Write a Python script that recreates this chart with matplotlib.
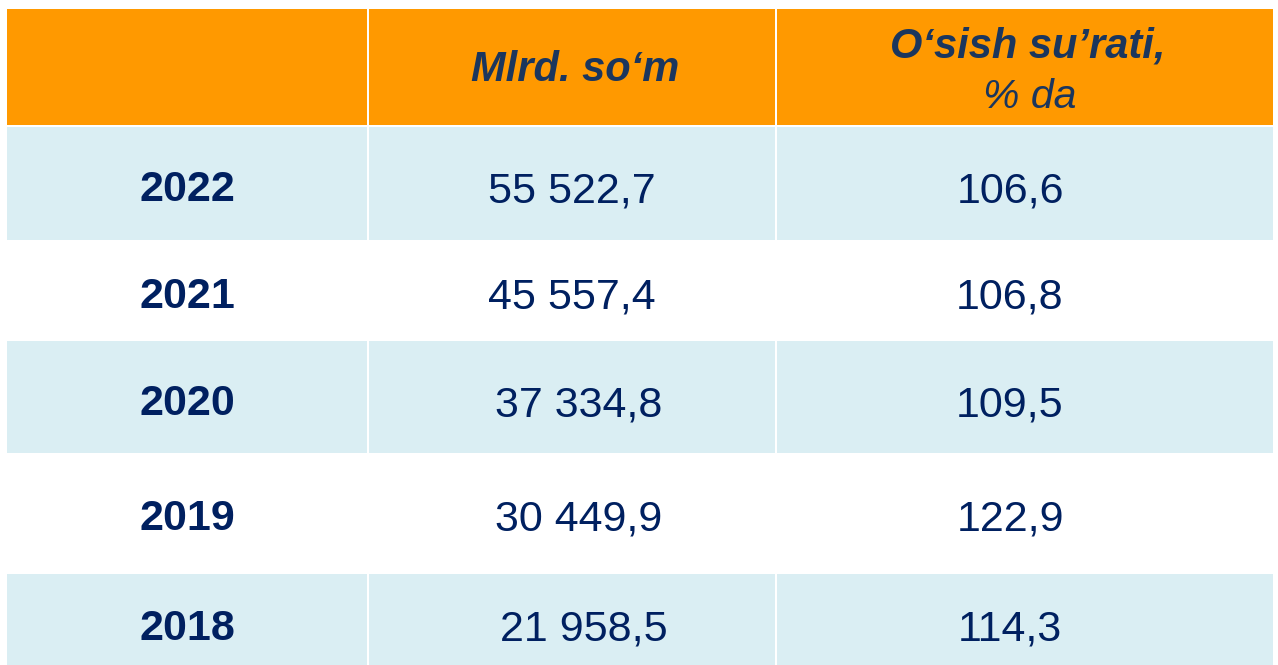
import matplotlib.pyplot as plt
from matplotlib.patches import Rectangle

# table content
years = ["2022", "2021", "2020", "2019", "2018"]
mlrd_som = ["55 522,7", "45 557,4", "37 334,8", "30 449,9", "21 958,5"]
growth = ["106,6", "106,8", "109,5", "122,9", "114,3"]
header_col2 = "Mlrd. so\u2018m"
header_col3_top = "O\u2018sish su\u2019rati,"
header_col3_bottom = "% da"

# layout in pixels (figure is 1278 x 665)
W, H = 1278, 665
col_edges = [6, 368, 776, 1274]
row_edges = [8, 126, 241, 340, 454, 573, 668]
baselines = [201, 308, 415, 530, 640]
col2_nudge = [0, 0, 7, 7, 12]

ORANGE = "#FF9900"
LIGHT = "#DAEEF3"
NAVY = "#002060"
HEAD_TXT = "#1B365D"

plt.rcParams["font.family"] = ["Liberation Sans", "DejaVu Sans"]

fig = plt.figure(figsize=(W / 100, H / 100), dpi=100)
ax = fig.add_axes([0, 0, 1, 1])
ax.set_xlim(0, W)
ax.set_ylim(H, 0)
ax.axis("off")

gap = 1
n_rows = len(row_edges) - 1
for r in range(n_rows):
    if r == 0:
        color = ORANGE
    elif r % 2 == 1:
        color = LIGHT
    else:
        continue
    y0, y1 = row_edges[r] + gap, row_edges[r + 1] - gap
    for c in range(len(col_edges) - 1):
        x0, x1 = col_edges[c] + gap, col_edges[c + 1] - gap
        ax.add_patch(Rectangle((x0, y0), x1 - x0, y1 - y0,
                               facecolor=color, edgecolor="none"))

# header
ax.text(575, 81, header_col2, ha="center", va="baseline",
        fontsize=30, fontweight="bold", fontstyle="italic", color=HEAD_TXT)
ax.text(1028, 58, header_col3_top, ha="center", va="baseline",
        fontsize=30, fontweight="bold", fontstyle="italic", color=HEAD_TXT)
ax.text(1030, 108, header_col3_bottom, ha="center", va="baseline",
        fontsize=29.5, fontstyle="italic", color=HEAD_TXT)

# body
for i, yr in enumerate(years):
    yb = baselines[i]
    ax.text(187, yb, yr, ha="center", va="baseline",
            fontsize=31, fontweight="bold", color=NAVY)
    ax.text(572 + col2_nudge[i], yb + 1, mlrd_som[i], ha="center",
            va="baseline", fontsize=31, color=NAVY)
    ax.text(1010, yb + 1, growth[i], ha="center", va="baseline",
            fontsize=31, color=NAVY)

fig.savefig("out.png", dpi=100, facecolor="white")
